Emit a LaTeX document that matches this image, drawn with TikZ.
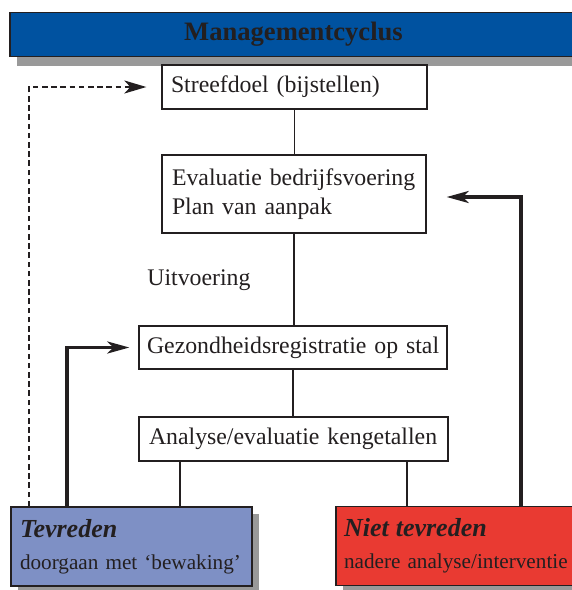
\documentclass[tikz,border=0pt]{standalone}
\usepackage{fontspec}
\setmainfont{Liberation Serif}
\usetikzlibrary{arrows.meta, shadows}
\definecolor{mcblue}{RGB}{0,82,160}
\definecolor{mcred}{RGB}{233,58,50}
\definecolor{mcperi}{RGB}{126,144,197}
\definecolor{mcshadow}{RGB}{153,153,153}
\definecolor{mcink}{RGB}{35,31,32}

\begin{document}
\begin{tikzpicture}[x=0.5pt, y=-0.5pt, text=mcink,
      font=\fontsize{11.9}{14.5}\selectfont,
      box/.style={draw=mcink, fill=white, line width=0.65pt,
        inner xsep=4.5pt, inner ysep=0pt, align=left},
      boxshadow/.style={drop shadow={fill=mcshadow, opacity=1,
        shadow xshift=3.5pt, shadow yshift=-3.5pt}},
      verdict/.style={box, boxshadow, minimum height=39.5pt,
        font=\fontsize{10.6}{16}\selectfont},
      link/.style={draw=mcink, line width=0.55pt},
      back/.style={draw=mcink, line width=1.65pt,
        -{Stealth[length=11pt, width=6pt, inset=3pt]}},
      feedback/.style={draw=mcink, line width=1pt,
        dash pattern=on 2.8pt off 1.8pt,
        -{Stealth[length=11pt, width=6.5pt, inset=3pt]}}]
      \clip (0,0) rectangle (572,590);
      % title bar
      \node[draw=mcink, fill=mcblue, line width=0.65pt, inner sep=0pt,
        minimum width=283.5pt, minimum height=22pt,
        font=\fontsize{13.3}{15}\selectfont\bfseries,
        drop shadow={fill=mcshadow, opacity=1, shadow xshift=3.5pt,
        shadow yshift=-4.5pt}] (title) at (293.5,34.5) {Managementcyclus};
      % cycle
      \node[box, text width=123.5pt, minimum height=22pt] (doel) at (294.5,87)
        {Streefdoel (bijstellen)};
      \node[box, inner xsep=5pt, text width=122pt, minimum height=39pt]
        (evaluatie) at (294,194) {Evaluatie bedrijfsvoering\\Plan van aanpak};
      \node[anchor=base west, inner sep=0pt] (uitvoering) at (147,285) {Uitvoering};
      \node[box, inner xsep=4pt, text width=146pt, minimum height=21.5pt]
        (gezond) at (293,347.5) {\mbox{Gezondheidsregistratie op stal}};
      \node[box, inner xsep=5pt, text width=144.5pt, minimum height=22pt]
        (analyse) at (293.5,439) {Analyse/evaluatie kengetallen};
      % verdicts
      \node[verdict, fill=mcperi, text width=111.5pt] (tevreden) at (131.5,546.5)
        {{\fontsize{13}{16}\selectfont\bfseries\itshape Tevreden}\\doorgaan met `bewaking'};
      \node[verdict, fill=mcred, inner xsep=4pt, text width=114pt] (niet) at (458,546)
        {{\fontsize{13}{16}\selectfont\bfseries\itshape Niet tevreden}\\nadere analyse/interventie};
      % links
      \path[link] (doel.south) -- (doel.south |- evaluatie.north);
      \path[link] (evaluatie.south) -- (evaluatie.south |- gezond.north);
      \path[link] (gezond.south) -- (gezond.south |- analyse.north);
      \path[link] (180,0 |- analyse.south) -- (180,0 |- tevreden.north);
      \path[link] (407,0 |- analyse.south) -- (407,0 |- niet.north);
      % feedback arrows
      \draw[back, shorten >=4.5pt] (67,0 |- tevreden.north) |- (gezond.west);
      \draw[back, shorten >=10pt] (521,0 |- niet.north) |- ([yshift=-1.5pt]evaluatie.east);
      \draw[feedback, shorten >=7.5pt] (29,0 |- tevreden.north) |- (doel.west);
  \end{tikzpicture}
\end{document}
